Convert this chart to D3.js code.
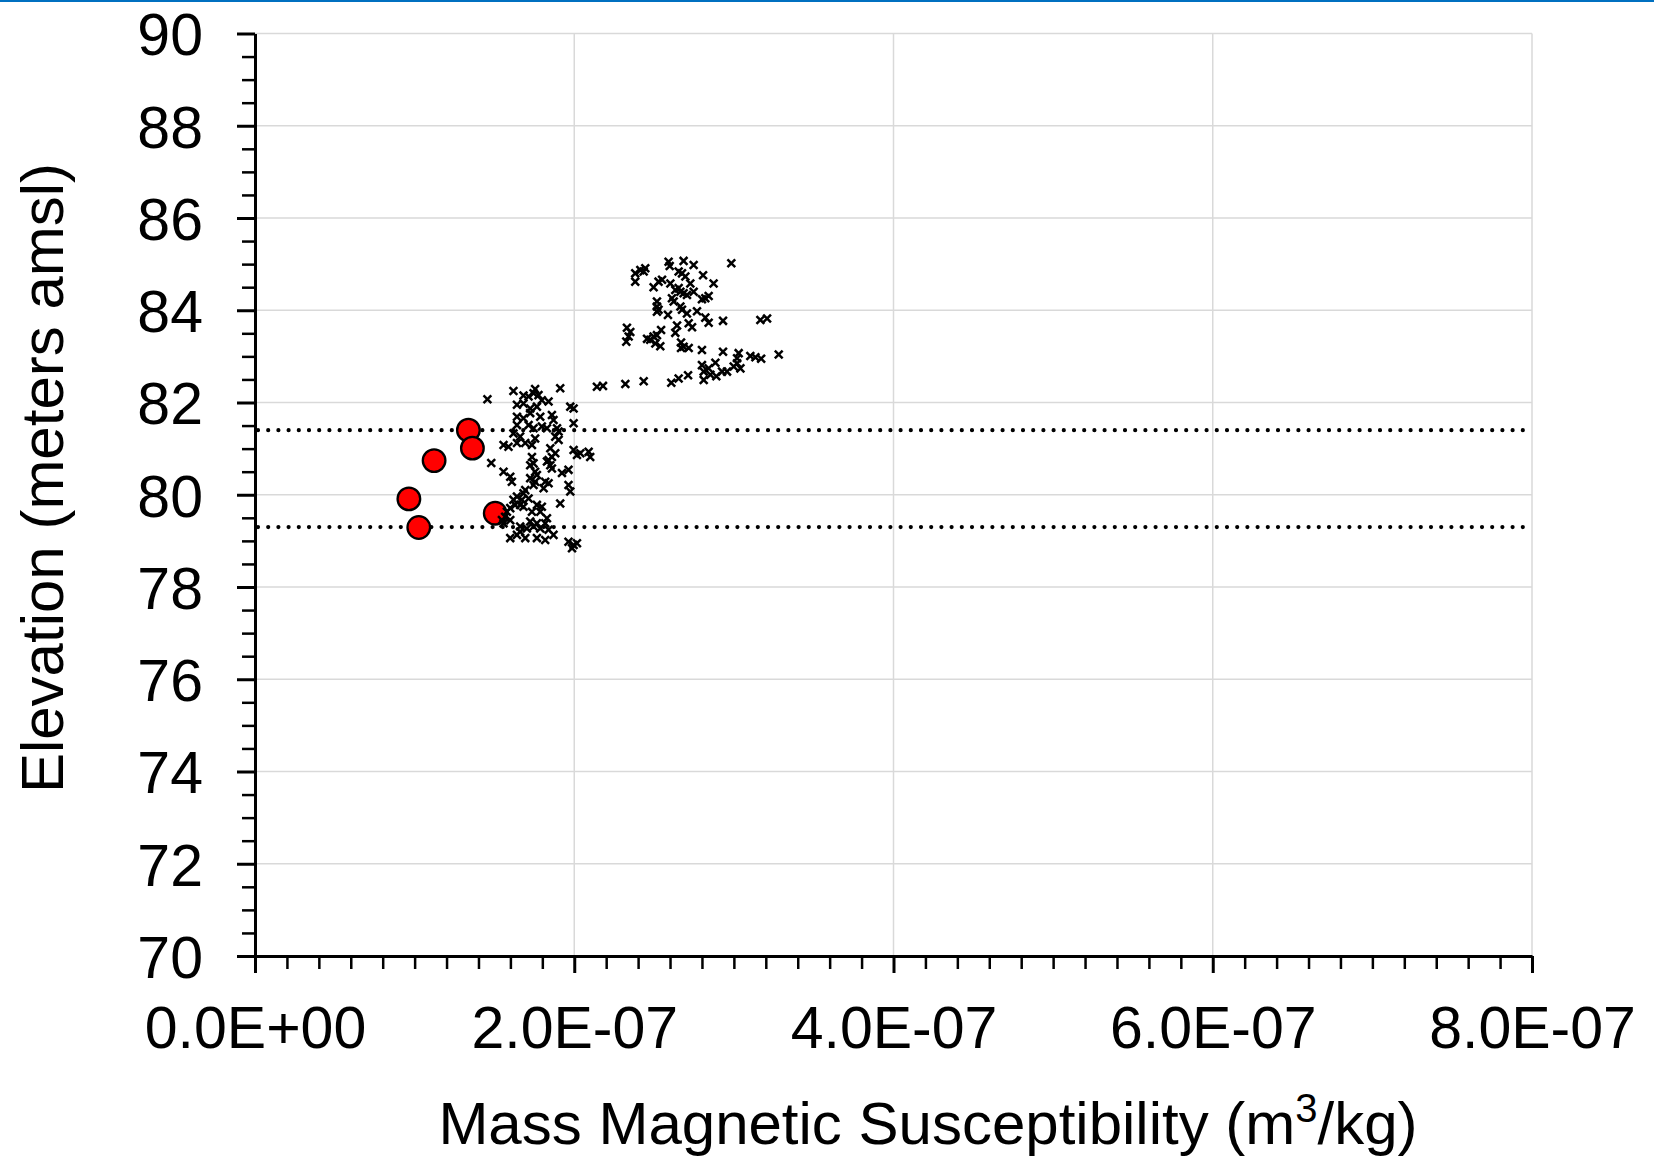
<!DOCTYPE html>
<html>
<head>
<meta charset="utf-8">
<script src="https://cdn.jsdelivr.net/npm/d3@7"></script>
<style>
  html, body { margin: 0; padding: 0; background: #fff; }
  svg { display: block; }
  text { font-family: "Liberation Sans", Arial, sans-serif; fill: #000; }
</style>
</head>
<body>
<svg id="chart" width="1654" height="1159"></svg>
<script>
// ---- data (susceptibility in units of 1e-7 m3/kg, elevation in m amsl) ----
const UNIT = 1e-7;
const xTickValues = [0, 2, 4, 6, 8];
const xTickLabels = ["0.0E+00", "2.0E-07", "4.0E-07", "6.0E-07", "8.0E-07"];
const yTickValues = [70, 72, 74, 76, 78, 80, 82, 84, 86, 88, 90];
const refLines = [81.4, 79.3];

// highlighted samples (red circles)
const circleSus = [1.337, 1.362, 1.122, 0.964, 1.026, 1.505];
const circleElev = [81.40, 81.01, 80.74, 79.91, 79.29, 79.60];

// all samples (x markers)
const crossSus = [
  1.456, 1.619, 1.755, 1.912, 2.142, 2.180,
  1.682, 1.714, 1.745, 1.776, 1.797, 1.839,
  1.641, 1.682, 1.724, 1.766, 1.975, 1.996,
  1.641, 1.682, 1.724, 1.787, 1.860, 1.870,
  1.641, 1.714, 1.745, 1.797, 1.829, 1.892, 1.902, 1.996,
  1.619, 1.661, 1.755, 1.881, 1.902,
  1.557, 1.588, 1.641, 1.693, 1.735,
  1.850, 1.881, 1.860,
  1.996, 2.017, 2.038, 2.090, 2.100,
  1.480,
  1.735, 1.724, 1.745, 1.829, 1.850, 1.860, 1.839,
  1.557, 1.599, 1.609,
  1.755, 1.766, 1.724, 1.755, 1.745,
  1.923, 1.964,
  1.818, 1.839, 1.808,
  1.964, 1.975,
  1.693, 1.682, 1.641, 1.619, 1.672, 1.714, 1.661, 1.630, 1.599, 1.682,
  1.912,
  1.766, 1.797, 1.735, 1.787,
  1.578, 1.567, 1.547, 1.599, 1.557,
  1.829, 1.818, 1.766, 1.724,
  1.661, 1.703, 1.745, 1.787, 1.839,
  1.641, 1.661, 1.599, 1.693, 1.766, 1.818, 1.870,
  1.964, 1.996, 2.017, 1.986,
  2.320, 2.435, 2.608, 2.654, 2.713,
  2.800, 2.811, 2.811, 2.842, 2.853, 2.884, 2.890, 2.926, 2.957, 2.999, 3.020, 3.030, 3.041, 3.020,
  3.103, 3.135, 3.171, 3.281, 2.932, 2.800,
  2.669, 2.685, 2.717, 2.669,
  2.456, 2.476, 2.497, 2.508, 2.539, 2.518, 2.544,
  2.330, 2.351, 2.326, 2.341,
  2.633, 2.644, 2.717, 2.738, 2.842, 2.821, 2.769, 2.932, 3.166, 3.208,
  2.587, 2.518, 2.518, 2.518, 2.528,
  2.623, 2.612, 2.665, 2.675, 2.706,
  2.633, 2.654, 2.685, 2.665, 2.706, 2.727, 2.748, 2.696, 2.675, 2.654,
  2.602, 2.550, 2.528, 2.497,
  2.382, 2.414, 2.445, 2.435, 2.382,
  2.591, 2.598, 2.685, 2.748, 2.807, 2.873, 2.800, 2.821, 2.842, 2.984
];
const crossElev = [
  82.07, 82.25, 82.29, 82.31, 82.34, 82.36,
  82.15, 82.13, 82.20, 82.16, 82.05, 82.02,
  81.95, 81.98, 81.87, 81.91, 81.91, 81.87,
  81.69, 81.66, 81.77, 81.69, 81.73, 81.62,
  81.51, 81.51, 81.44, 81.48, 81.44, 81.44, 81.37, 81.55,
  81.33, 81.26, 81.22, 81.26, 81.19,
  81.08, 81.04, 81.12, 81.12, 81.08,
  81.01, 80.90, 80.82,
  80.97, 80.86, 80.90, 80.93, 80.82,
  80.69,
  80.82, 80.64, 80.68, 80.72, 80.64, 80.57, 80.75,
  80.50, 80.39, 80.28,
  80.50, 80.43, 80.36, 80.28, 80.21,
  80.47, 80.54,
  80.28, 80.25, 80.14,
  80.21, 80.07,
  80.10, 80.03, 79.96, 79.89, 79.89, 79.92, 79.78, 79.78, 79.71, 79.74,
  79.81,
  79.78, 79.74, 79.63, 79.63,
  79.63, 79.52, 79.45, 79.45, 79.38,
  79.49, 79.38, 79.38, 79.42,
  79.31, 79.27, 79.31, 79.27, 79.24,
  79.13, 79.20, 79.06, 79.06, 79.06, 79.02, 79.13,
  78.98, 78.91, 78.95, 78.84,
  82.40, 82.46, 82.43, 82.52, 82.59,
  82.81, 82.67, 82.49, 82.74, 82.60, 82.86, 82.57, 82.67, 82.67, 82.78, 82.85, 83.07, 82.74, 82.96,
  83.01, 82.98, 82.95, 83.04, 83.10, 83.14,
  83.30, 83.21, 83.18, 83.18,
  83.38, 83.36, 83.43, 83.28, 83.22, 83.46, 83.57,
  83.62, 83.53, 83.32, 83.43,
  83.51, 83.67, 83.72, 83.63, 83.73, 83.84, 83.98, 83.77, 83.79, 83.82,
  83.90, 84.19, 84.08, 83.97, 84.01,
  84.19, 84.26, 84.08, 84.01, 83.93,
  84.44, 84.48, 84.37, 84.40, 84.33, 84.58, 84.40, 84.73, 84.80, 84.84,
  84.58, 84.66, 84.62, 84.50,
  84.80, 84.87, 84.91, 84.84, 84.62,
  85.05, 84.96, 85.07, 84.98, 84.76, 84.58, 84.24, 84.26, 84.31, 85.02
];

(function () {
  const svg = d3.select("#chart");
  const W = 1654;
  const pL = 255, pR = 1532, pT = 33.5, pB = 956;
  const FONT = 59;
  const TFONT = 60;

  const x = d3.scaleLinear().domain([0, 8 * UNIT]).range([pL, pR]);
  const y = d3.scaleLinear().domain([70, 90]).range([pB, pT]);

  // top blue rule
  svg.append("rect").attr("x", 0).attr("y", 0).attr("width", W).attr("height", 2).attr("fill", "#0070C0");

  // gridlines
  const grid = svg.append("g").attr("stroke", "#d9d9d9").attr("stroke-width", 1.5);
  yTickValues.filter(v => v > 70).forEach(v => {
    grid.append("line").attr("x1", pL).attr("x2", pR).attr("y1", y(v)).attr("y2", y(v));
  });
  xTickValues.filter(v => v > 0).forEach(v => {
    grid.append("line").attr("x1", x(v * UNIT)).attr("x2", x(v * UNIT)).attr("y1", pT).attr("y2", pB);
  });

  // dotted reference lines
  svg.append("g").selectAll("line").data(refLines).join("line")
    .attr("x1", pL + 3).attr("x2", pR)
    .attr("y1", d => y(d)).attr("y2", d => y(d))
    .attr("stroke", "#000").attr("stroke-width", 4.2)
    .attr("stroke-linecap", "round").attr("stroke-dasharray", "0 10.2");

  // red circles
  const circles = circleSus.map((s, i) => ({ s, e: circleElev[i] }));
  svg.append("g").selectAll("circle").data(circles).join("circle")
    .attr("cx", d => x(d.s * UNIT)).attr("cy", d => y(d.e)).attr("r", 11.3)
    .attr("fill", "#ff0000").attr("stroke", "#000").attr("stroke-width", 2.3);

  // x markers
  const crosses = crossSus.map((s, i) => ({ s, e: crossElev[i] }));
  const m = 3.9;
  svg.append("g").selectAll("path").data(crosses).join("path")
    .attr("d", d => {
      const cx = x(d.s * UNIT), cy = y(d.e);
      return `M${cx - m},${cy - m}L${cx + m},${cy + m}M${cx - m},${cy + m}L${cx + m},${cy - m}`;
    })
    .attr("stroke", "#000").attr("stroke-width", 2.5).attr("fill", "none");

  // axes
  const yMinor = d3.range(70, 90.001, 0.5).filter(v => Math.abs(v % 2) > 1e-9);
  const xMinor = d3.range(0, 8.0001, 0.2).filter(v => Math.abs(v / 2 - Math.round(v / 2)) > 1e-6).map(v => v * UNIT);

  const gyMinor = svg.append("g").attr("transform", `translate(${pL},0)`)
    .call(d3.axisLeft(y).tickValues(yMinor).tickSize(13).tickSizeOuter(0).tickFormat(""));
  const gy = svg.append("g").attr("transform", `translate(${pL},0)`)
    .call(d3.axisLeft(y).tickValues(yTickValues).tickSize(18).tickSizeOuter(0).tickPadding(34).tickFormat(d3.format("d")));

  const gxMinor = svg.append("g").attr("transform", `translate(0,${pB})`)
    .call(d3.axisBottom(x).tickValues(xMinor).tickSize(13).tickSizeOuter(0).tickFormat(""));
  const gx = svg.append("g").attr("transform", `translate(0,${pB})`)
    .call(d3.axisBottom(x).tickValues(xTickValues.map(v => v * UNIT)).tickSize(17).tickSizeOuter(0).tickPadding(33)
      .tickFormat((d, i) => xTickLabels[i]));

  [gyMinor, gxMinor].forEach(g => {
    g.select(".domain").remove();
    g.selectAll(".tick line").attr("stroke", "#000").attr("stroke-width", 2.5);
  });
  [gy, gx].forEach(g => {
    g.select(".domain").attr("stroke", "#000").attr("stroke-width", 3);
    g.selectAll(".tick line").attr("stroke", "#000").attr("stroke-width", 3);
    g.selectAll(".tick text").attr("font-size", FONT).attr("font-family", '"Liberation Sans", Arial, sans-serif').attr("fill", "#000");
  });
  gy.selectAll(".tick text").attr("dy", "0.36em");

  // axis titles
  svg.append("text")
    .attr("transform", `translate(63,478) rotate(-90)`)
    .attr("text-anchor", "middle").attr("font-size", TFONT)
    .text("Elevation (meters amsl)");

  const xt = svg.append("text")
    .attr("x", 928).attr("y", 1144).attr("text-anchor", "middle").attr("font-size", TFONT);
  xt.append("tspan").text("Mass Magnetic Susceptibility (m");
  xt.append("tspan").attr("font-size", 40).attr("dy", -22).text("3");
  xt.append("tspan").attr("dy", 22).text("/kg)");
})();
</script>
</body>
</html>
